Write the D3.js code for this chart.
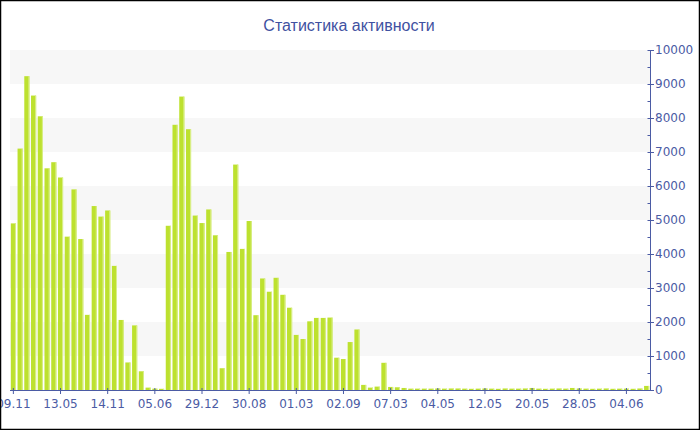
<!DOCTYPE html>
<html>
<head>
<meta charset="utf-8">
<script src="https://cdn.jsdelivr.net/npm/d3@7/dist/d3.min.js"></script>
<style>
  html, body { margin: 0; padding: 0; background: #fff; }
  svg { display: block; }
</style>
</head>
<body>
<svg id="chart" width="700" height="430"></svg>
<script>
// Activity counts per period, in display order
const values = [
  4900, 7100, 9230, 8660, 8050, 6520, 6700, 6250, 4510, 5900,
  4440, 2210, 5410, 5100, 5280, 3650, 2060, 810, 1900, 550,
  70, 40, 35, 4830, 7800, 8630, 7670, 5130, 4910, 5310,
  4550, 640, 4060, 6630, 4150, 4970, 2200, 3280, 2890, 3300,
  2800, 2420, 1620, 1500, 2020, 2120, 2120, 2130, 950, 910,
  1410, 1780, 150, 70, 100, 800, 90, 80, 60, 40,
  40, 40, 40, 45, 40, 45, 45, 40, 35, 40,
  45, 40, 35, 45, 40, 40, 45, 60, 40, 35,
  40, 45, 40, 60, 45, 40, 35, 40, 45, 35,
  40, 40, 35, 45, 120
];
// Labels shown under every seventh bar
const tickLabels = ["09.11", "13.05", "14.11", "05.06", "29.12", "30.08", "01.03",
                    "02.09", "07.03", "04.05", "12.05", "20.05", "28.05", "04.06"];
const yTicks = [0, 1000, 2000, 3000, 4000, 5000, 6000, 7000, 8000, 9000, 10000];
const title = "Статистика активности";

const font = "DejaVu Sans, Verdana, sans-serif";
const axisColor = "#4b5ba4";
const barColor = "#bde12f";
const barEdge = "#daef8c";

const svg = d3.select("#chart");
const plotL = 10, plotR = 650, plotT = 50, plotB = 390;

const x = d3.scaleBand()
  .domain(d3.range(values.length))
  .range([plotL, plotR])
  .paddingInner(0.24)
  .paddingOuter(0.12);
const y = d3.scaleLinear().domain([0, 10000]).range([plotB, plotT]);

// Alternating horizontal bands
const bands = d3.range(1000, 10000, 2000);
svg.append("g").selectAll("rect").data(bands).join("rect")
  .attr("x", plotL).attr("width", plotR - plotL)
  .attr("y", d => y(d + 1000))
  .attr("height", d => y(d) - y(d + 1000))
  .attr("fill", "#f7f7f7");

// Bars
const bars = svg.append("g");
bars.selectAll("rect.bar").data(values).join("rect")
  .attr("class", "bar")
  .attr("x", (d, i) => x(i))
  .attr("width", x.bandwidth())
  .attr("y", d => y(d))
  .attr("height", d => plotB - y(d))
  .attr("fill", barColor);
bars.selectAll("rect.edge").data(values).join("rect")
  .attr("class", "edge")
  .attr("x", (d, i) => x(i) + x.bandwidth() - 1)
  .attr("width", 1)
  .attr("y", d => y(d))
  .attr("height", d => plotB - y(d))
  .attr("fill", barEdge);

// X axis
const tickIdx = tickLabels.map((_, k) => k * 7);
const xAxis = d3.axisBottom(x)
  .tickValues(tickIdx)
  .tickFormat((d, k) => tickLabels[k])
  .tickSize(4)
  .tickSizeOuter(0);
const gx = svg.append("g").attr("transform", `translate(0,${plotB})`).call(xAxis);
gx.select(".domain").attr("stroke", axisColor).attr("d", `M${plotL},0.5H${plotR}`);
gx.selectAll(".tick line").attr("stroke", axisColor).attr("y1", -2);
gx.selectAll(".tick text")
  .attr("fill", axisColor)
  .attr("font-family", font)
  .attr("font-size", 12)
  .attr("dy", "0.9em");

// Y axis on the right with minor ticks
const minor = d3.range(500, 10000, 1000);
const gyMinor = svg.append("g").attr("transform", `translate(${plotR},0)`);
gyMinor.selectAll("line").data(minor).join("line")
  .attr("x1", -2.5).attr("x2", 0.5)
  .attr("y1", d => Math.round(y(d)) + 0.5).attr("y2", d => Math.round(y(d)) + 0.5)
  .attr("stroke", axisColor);

const yAxis = d3.axisRight(y).tickValues(yTicks).tickFormat(d3.format("d")).tickSize(4).tickSizeOuter(0);
const gy = svg.append("g").attr("transform", `translate(${plotR},0)`).call(yAxis);
gy.select(".domain").attr("stroke", axisColor);
gy.selectAll(".tick line").attr("stroke", axisColor).attr("x1", -2.5);
gy.selectAll(".tick text")
  .attr("fill", axisColor)
  .attr("font-family", font)
  .attr("font-size", 12)
  .attr("x", 5);

// Title
svg.append("text")
  .attr("x", 349).attr("y", 31)
  .attr("text-anchor", "middle")
  .attr("font-family", "Liberation Sans, Arial, sans-serif")
  .attr("font-size", 16)
  .attr("fill", "#3f51a1")
  .text(title);

// Frame
svg.append("rect")
  .attr("x", 0.5).attr("y", 0.5).attr("width", 699).attr("height", 429)
  .attr("fill", "none").attr("stroke", "#000").attr("stroke-width", 1.5);
</script>
</body>
</html>
